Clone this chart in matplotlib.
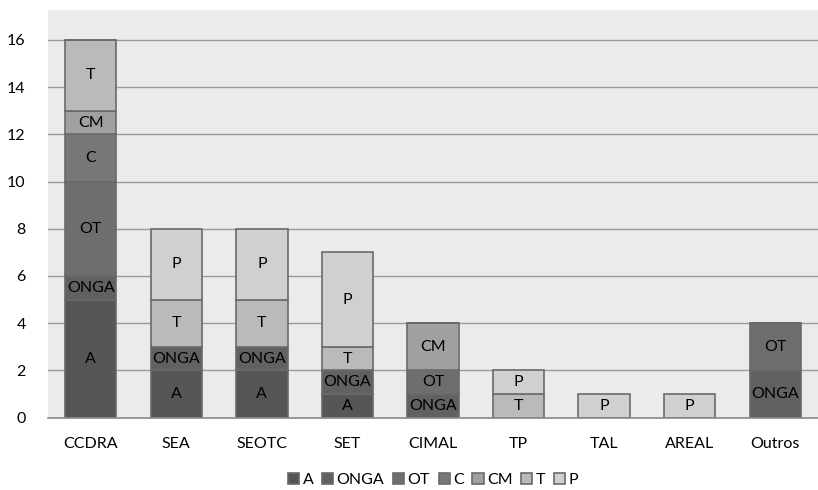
import matplotlib
matplotlib.use("Agg")
import matplotlib.pyplot as plt
import numpy as np

categories = ["CCDRA", "SEA", "SEOTC", "SET", "CIMAL", "TP", "TAL", "AREAL", "Outros"]
series_names = ["A", "ONGA", "OT", "C", "CM", "T", "P"]
A    = [5, 2, 2, 1, 0, 0, 0, 0, 0]
ONGA = [1, 1, 1, 1, 1, 0, 0, 0, 2]
OT   = [4, 0, 0, 0, 1, 0, 0, 0, 2]
C    = [2, 0, 0, 0, 0, 0, 0, 0, 0]
CM   = [1, 0, 0, 0, 2, 0, 0, 0, 0]
T    = [3, 2, 2, 1, 0, 1, 0, 0, 0]
P    = [0, 3, 3, 4, 0, 1, 1, 1, 0]
series = [A, ONGA, OT, C, CM, T, P]
colors = ["#565656", "#616161", "#6e6e6e", "#787878", "#a0a0a0", "#bababa", "#d0d0d0"]
yticks = [0, 2, 4, 6, 8, 10, 12, 14, 16]

plt.rcParams['font.family'] = ['Lato', 'DejaVu Sans']
FS = 11.5

fig = plt.figure(figsize=(8.18, 4.9), dpi=100)
ax = fig.add_axes([48/818, (490-417.5)/490, 1 - 48/818, (417.5-10)/490])
ax.set_facecolor("#ebebeb")

x = np.arange(len(categories))
bottom = np.zeros(len(categories))
for name, vals, col in zip(series_names, series, colors):
    vals = np.array(vals, dtype=float)
    ax.bar(x, vals, 0.6, bottom=bottom, color=col, edgecolor="#6a6a6a",
           linewidth=1.2, label=name, zorder=3)
    for xi, v, b in zip(x, vals, bottom):
        if v > 0:
            ax.text(xi, b + v / 2, name, ha="center", va="center", fontsize=FS,
                    color="black", zorder=4)
    bottom += vals

ax.set_xlim(-0.5, len(categories) - 0.5)
ax.set_ylim(0, 17.27)
ax.set_yticks(yticks)
ax.set_xticks(x)
ax.set_xticklabels(categories, fontsize=FS)
ax.tick_params(axis="y", labelsize=FS, length=0, pad=16)
ax.tick_params(axis="x", length=0, pad=14)
ax.grid(axis="y", color="#9a9a9a", linewidth=1.0, zorder=1)
for s in ["top", "right", "left"]:
    ax.spines[s].set_visible(False)
ax.spines["bottom"].set_color("#8a8a8a")
ax.spines["bottom"].set_linewidth(1.2)
ax.spines["bottom"].set_zorder(5)

leg = fig.legend(loc="center", bbox_to_anchor=((48 + 818) / 2 / 818, 1 - 480/490), ncol=7,
                 frameon=False, fontsize=FS, handlelength=0.7, handleheight=0.7,
                 handletextpad=0.2, columnspacing=0.55)

fig.savefig("out.png", dpi=100)
